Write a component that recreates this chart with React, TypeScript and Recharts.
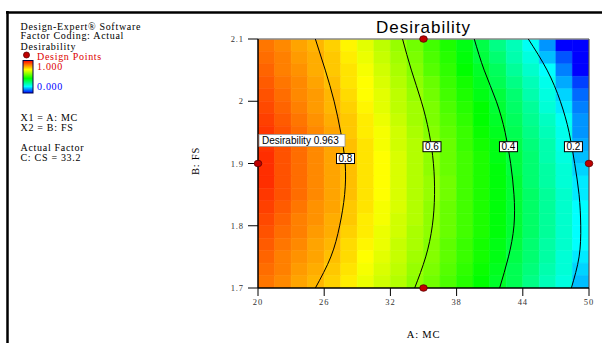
import React from 'react';
import {
  ComposedChart,
  XAxis,
  YAxis,
  Line,
  Scatter,
  ReferenceArea,
  ReferenceDot,
  ReferenceLine,
} from 'recharts';

// Column centres of the 20 x 20 desirability grid (A: MC)
const xCenters = [
  20.75, 22.25, 23.75, 25.25, 26.75, 28.25, 29.75, 31.25, 32.75, 34.25,
  35.75, 37.25, 38.75, 40.25, 41.75, 43.25, 44.75, 46.25, 47.75, 49.25,
];
// Row centres (B: FS), top row first
const yCenters = [
  2.09, 2.07, 2.05, 2.03, 2.01, 1.99, 1.97, 1.95, 1.93, 1.91,
  1.89, 1.87, 1.85, 1.83, 1.81, 1.79, 1.77, 1.75, 1.73, 1.71,
];
// Desirability, one row per yCenters entry
const desirability = [
  [0.87, 0.85, 0.82, 0.80, 0.77, 0.73, 0.69, 0.65, 0.61, 0.57, 0.52, 0.48, 0.43, 0.38, 0.32, 0.27, 0.21, 0.15, 0.08, 0.03],
  [0.88, 0.86, 0.83, 0.81, 0.78, 0.74, 0.70, 0.66, 0.62, 0.58, 0.53, 0.49, 0.44, 0.39, 0.34, 0.28, 0.23, 0.17, 0.12, 0.05],
  [0.89, 0.86, 0.84, 0.81, 0.78, 0.75, 0.71, 0.67, 0.63, 0.59, 0.54, 0.50, 0.45, 0.41, 0.36, 0.30, 0.25, 0.20, 0.14, 0.06],
  [0.90, 0.87, 0.85, 0.82, 0.79, 0.75, 0.72, 0.68, 0.64, 0.60, 0.56, 0.51, 0.47, 0.42, 0.37, 0.32, 0.27, 0.22, 0.16, 0.11],
  [0.91, 0.88, 0.85, 0.83, 0.80, 0.76, 0.72, 0.69, 0.65, 0.61, 0.57, 0.52, 0.48, 0.43, 0.39, 0.34, 0.28, 0.23, 0.18, 0.13],
  [0.92, 0.89, 0.86, 0.83, 0.80, 0.77, 0.73, 0.69, 0.65, 0.62, 0.58, 0.53, 0.49, 0.45, 0.40, 0.35, 0.30, 0.24, 0.19, 0.14],
  [0.93, 0.90, 0.87, 0.84, 0.81, 0.78, 0.74, 0.70, 0.66, 0.62, 0.58, 0.54, 0.50, 0.45, 0.41, 0.36, 0.31, 0.26, 0.21, 0.15],
  [0.94, 0.91, 0.88, 0.85, 0.82, 0.78, 0.74, 0.71, 0.67, 0.63, 0.59, 0.55, 0.51, 0.46, 0.42, 0.37, 0.32, 0.27, 0.22, 0.15],
  [0.94, 0.91, 0.88, 0.85, 0.82, 0.79, 0.75, 0.71, 0.67, 0.64, 0.60, 0.56, 0.51, 0.47, 0.43, 0.38, 0.33, 0.28, 0.22, 0.16],
  [0.95, 0.91, 0.88, 0.85, 0.82, 0.79, 0.75, 0.72, 0.68, 0.64, 0.60, 0.56, 0.52, 0.48, 0.43, 0.39, 0.34, 0.28, 0.23, 0.17],
  [0.95, 0.91, 0.88, 0.85, 0.82, 0.79, 0.75, 0.72, 0.68, 0.64, 0.60, 0.56, 0.52, 0.48, 0.44, 0.39, 0.34, 0.29, 0.24, 0.18],
  [0.95, 0.91, 0.88, 0.85, 0.82, 0.79, 0.75, 0.72, 0.68, 0.64, 0.61, 0.57, 0.52, 0.48, 0.44, 0.40, 0.34, 0.29, 0.24, 0.19],
  [0.94, 0.91, 0.88, 0.85, 0.82, 0.79, 0.75, 0.72, 0.68, 0.64, 0.61, 0.57, 0.52, 0.48, 0.44, 0.40, 0.35, 0.30, 0.25, 0.19],
  [0.93, 0.90, 0.87, 0.84, 0.82, 0.78, 0.75, 0.71, 0.68, 0.64, 0.60, 0.56, 0.52, 0.48, 0.44, 0.40, 0.35, 0.30, 0.25, 0.20],
  [0.92, 0.89, 0.86, 0.84, 0.81, 0.78, 0.74, 0.71, 0.67, 0.64, 0.60, 0.56, 0.52, 0.48, 0.44, 0.40, 0.35, 0.30, 0.25, 0.20],
  [0.91, 0.88, 0.86, 0.83, 0.81, 0.77, 0.74, 0.70, 0.67, 0.63, 0.60, 0.56, 0.52, 0.48, 0.44, 0.40, 0.35, 0.30, 0.25, 0.20],
  [0.90, 0.87, 0.85, 0.82, 0.80, 0.76, 0.73, 0.70, 0.66, 0.63, 0.59, 0.55, 0.51, 0.47, 0.43, 0.39, 0.34, 0.29, 0.25, 0.20],
  [0.89, 0.86, 0.84, 0.82, 0.79, 0.76, 0.72, 0.69, 0.66, 0.62, 0.59, 0.55, 0.51, 0.47, 0.43, 0.38, 0.34, 0.29, 0.24, 0.19],
  [0.88, 0.86, 0.83, 0.81, 0.78, 0.75, 0.71, 0.68, 0.65, 0.61, 0.58, 0.54, 0.50, 0.46, 0.42, 0.37, 0.33, 0.28, 0.24, 0.18],
  [0.87, 0.85, 0.82, 0.80, 0.77, 0.74, 0.70, 0.67, 0.64, 0.60, 0.57, 0.53, 0.49, 0.45, 0.41, 0.37, 0.32, 0.27, 0.23, 0.17],
];

const xTicks = [20, 26, 32, 38, 44, 50];
const yTicks = [1.7, 1.8, 1.9, 2, 2.1];

// Contour lines (A: MC, B: FS)
const contour08 = [
  { x: 25.2, y: 2.1 }, { x: 26.1, y: 2.05 }, { x: 26.9, y: 2.0 }, { x: 27.5, y: 1.95 },
  { x: 27.9, y: 1.9 }, { x: 27.85, y: 1.85 }, { x: 27.4, y: 1.8 }, { x: 26.6, y: 1.75 }, { x: 25.2, y: 1.7 },
];
const contour06 = [
  { x: 33.1, y: 2.1 }, { x: 33.9, y: 2.05 }, { x: 34.8, y: 2.0 }, { x: 35.5, y: 1.95 },
  { x: 35.9, y: 1.9 }, { x: 36.0, y: 1.85 }, { x: 35.8, y: 1.8 }, { x: 35.2, y: 1.75 }, { x: 34.2, y: 1.7 },
];
const contour04 = [
  { x: 39.6, y: 2.1 }, { x: 40.5, y: 2.05 }, { x: 41.6, y: 2.0 }, { x: 42.4, y: 1.95 },
  { x: 42.9, y: 1.9 }, { x: 43.2, y: 1.85 }, { x: 43.2, y: 1.8 }, { x: 42.7, y: 1.75 }, { x: 41.9, y: 1.7 },
];
const contour02 = [
  { x: 44.5, y: 2.1 }, { x: 46.2, y: 2.05 }, { x: 47.4, y: 2.0 }, { x: 48.2, y: 1.95 },
  { x: 48.7, y: 1.9 }, { x: 49.1, y: 1.85 }, { x: 49.25, y: 1.8 }, { x: 49.1, y: 1.75 }, { x: 48.4, y: 1.7 },
];
const contours = [contour08, contour06, contour04, contour02];

const contourLabels = [
  { x: 27.93, y: 1.908, text: '0.8' },
  { x: 35.77, y: 1.927, text: '0.6' },
  { x: 42.7, y: 1.927, text: '0.4' },
  { x: 48.59, y: 1.927, text: '0.2' },
];

const designPoints = [
  { x: 35, y: 2.1 },
  { x: 20, y: 1.9 },
  { x: 50, y: 1.9 },
  { x: 35, y: 1.7 },
];

const optimum = { x: 20, y: 1.9, text: 'Desirability 0.963' };

// colour scale: blue (0) -> cyan -> green -> yellow -> red (1)
const stops: [number, number[]][] = [
  [0.08, [0, 0, 255]],
  [0.2, [0, 255, 255]],
  [0.45, [0, 255, 0]],
  [0.72, [255, 255, 0]],
  [1.0, [255, 0, 0]],
];
const rgb = (c: number[]) => `rgb(${c.map((v) => Math.round(v)).join(',')})`;
function colorFor(v: number): string {
  if (v <= stops[0][0]) return rgb(stops[0][1]);
  for (let i = 1; i < stops.length; i++) {
    if (v <= stops[i][0]) {
      const [a, ca] = stops[i - 1];
      const [b, cb] = stops[i];
      const t = (v - a) / (b - a);
      return rgb(ca.map((c, k) => c + (cb[k] - c) * t));
    }
  }
  return rgb(stops[stops.length - 1][1]);
}

const serif = '"Liberation Serif", "Times New Roman", serif';
const sans = '"Liberation Sans", Arial, sans-serif';

const W = 602;
const H = 343;

export default function App() {
  const hx = Math.abs(xCenters[1] - xCenters[0]) / 2;
  const hy = Math.abs(yCenters[0] - yCenters[1]) / 2;

  const cells: React.ReactNode[] = [];
  yCenters.forEach((yc, r) => {
    xCenters.forEach((xc, c) => {
      const col = colorFor(desirability[r][c]);
      cells.push(
        <ReferenceArea
          key={`cell-${r}-${c}`}
          x1={xc - hx}
          x2={xc + hx}
          y1={yc - hy}
          y2={yc + hy}
          fill={col}
          fillOpacity={1}
          stroke={col}
          strokeWidth={0.6}
          ifOverflow="hidden"
        />
      );
    });
  });

  const legendLine = (y: number, text: string, fill = '#000') => (
    <text x={20.5} y={y} fontFamily={serif} fontSize={10} letterSpacing={0.7} fill={fill}>
      {text}
    </text>
  );

  return (
    <div style={{ position: 'absolute', left: 0, top: 0, width: W, height: H, background: '#fff' }}>
      <svg width={W} height={H} style={{ position: 'absolute', left: 0, top: 0 }}>
        <defs>
          <linearGradient id="cbar" x1="0" y1="0" x2="0" y2="1">
            <stop offset="0%" stopColor="#ff0000" />
            <stop offset="28%" stopColor="#ffff00" />
            <stop offset="55%" stopColor="#00ff00" />
            <stop offset="80%" stopColor="#00ffff" />
            <stop offset="100%" stopColor="#0000ff" />
          </linearGradient>
        </defs>
        <line x1={7.5} y1={11} x2={7.5} y2={H} stroke="#000" strokeWidth={2.5} />
        <line x1={6} y1={12.5} x2={W} y2={12.5} stroke="#000" strokeWidth={2.5} />
        {legendLine(29.5, 'Design-Expert® Software')}
        {legendLine(39, 'Factor Coding: Actual')}
        {legendLine(49.5, 'Desirability')}
        <circle cx={26.5} cy={55} r={3} fill="#c00000" stroke="#600000" strokeWidth={0.8} />
        <text x={37} y={59.5} fontFamily={serif} fontSize={10} letterSpacing={0.7} fill="#dd0000">Design Points</text>
        <rect x={23} y={60.5} width={10} height={32.5} fill="url(#cbar)" stroke="#000040" strokeWidth={1} />
        <text x={37} y={69.5} fontFamily={serif} fontSize={10} letterSpacing={0.7} fill="#dd0000">1.000</text>
        <text x={37} y={89.5} fontFamily={serif} fontSize={10} letterSpacing={0.7} fill="#0000ff">0.000</text>
        {legendLine(120.5, 'X1 = A: MC')}
        {legendLine(130.5, 'X2 = B: FS')}
        {legendLine(150.5, 'Actual Factor')}
        {legendLine(160.5, 'C: CS = 33.2')}
        <text x={423.5} y={33} textAnchor="middle" fontFamily={sans} fontSize={17} letterSpacing={1} fill="#000">
          Desirability
        </text>
        <text x={423.5} y={338} textAnchor="middle" fontFamily={serif} fontSize={10.5} letterSpacing={0.8} fill="#000">
          A: MC
        </text>
        <text
          x={0}
          y={0}
          transform="translate(199,161) rotate(-90)"
          textAnchor="middle"
          fontFamily={serif}
          fontSize={10.5}
          letterSpacing={0.8}
          fill="#000"
        >
          B: FS
        </text>
      </svg>
      <div style={{ position: 'absolute', left: 0, top: 0 }}>
        <ComposedChart width={W} height={H} margin={{ top: 39, right: 13, bottom: 25, left: 198 }}>
          <XAxis
            type="number"
            dataKey="x"
            domain={[20, 50]}
            ticks={xTicks}
            height={30}
            tickSize={8}
            tickMargin={3}
            axisLine={{ stroke: '#000', strokeWidth: 1.5 }}
            tickLine={{ stroke: '#000', strokeWidth: 1 }}
            tick={{ fontSize: 8.5, fontFamily: serif, fill: '#333', letterSpacing: 0.9 }}
          />
          <YAxis
            type="number"
            dataKey="y"
            domain={[1.7, 2.1]}
            ticks={yTicks}
            width={60}
            tickSize={10}
            tickMargin={4}
            axisLine={{ stroke: '#000', strokeWidth: 1.5 }}
            tickLine={{ stroke: '#000', strokeWidth: 1 }}
            tick={{ fontSize: 8.5, fontFamily: serif, fill: '#333', letterSpacing: 0.9 }}
          />
          {cells}
          <ReferenceLine y={2.1} stroke="#8a8a8a" strokeWidth={1.5} ifOverflow="visible" />
          <ReferenceLine x={50} stroke="#555" strokeWidth={1.2} ifOverflow="visible" />
          {contours.map((c, i) => (
            <Line
              key={`contour-${i}`}
              data={c}
              dataKey="y"
              type="natural"
              stroke="#000"
              strokeWidth={1}
              dot={false}
              activeDot={false}
              isAnimationActive={false}
            />
          ))}
          <ReferenceDot
            x={optimum.x}
            y={optimum.y}
            ifOverflow="visible"
            shape={(p: any) => (
              <g>
                <rect x={p.cx + 1} y={p.cy - 29} width={86} height={12} fill="#fff" stroke="#999" strokeWidth={0.8} />
                <text x={p.cx + 4} y={p.cy - 19.5} fontFamily={sans} fontSize={10} fill="#000">
                  {optimum.text}
                </text>
              </g>
            )}
          />
          {contourLabels.map((l, i) => (
            <ReferenceDot
              key={`lbl-${i}`}
              x={l.x}
              y={l.y}
              ifOverflow="visible"
              shape={(p: any) => (
                <g>
                  <rect x={p.cx - 9} y={p.cy - 5} width={18} height={10} fill="#fff" stroke="#000" strokeWidth={1} />
                  <text x={p.cx} y={p.cy + 3.5} textAnchor="middle" fontFamily={sans} fontSize={10} fill="#000">
                    {l.text}
                  </text>
                </g>
              )}
            />
          ))}
          <Scatter
            data={designPoints}
            isAnimationActive={false}
            shape={(p: any) => (
              <ellipse cx={p.cx} cy={p.cy} rx={3.8} ry={3.3} fill="#c00000" stroke="#5a0000" strokeWidth={0.8} />
            )}
          />
        </ComposedChart>
      </div>
    </div>
  );
}
